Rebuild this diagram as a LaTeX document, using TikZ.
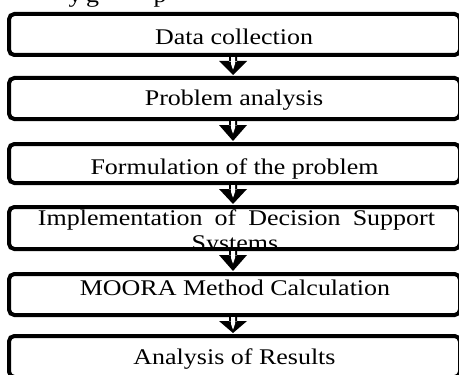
\documentclass[tikz,border=0pt]{standalone}
\usepackage{graphicx}
\usepackage{fontspec}
\setmainfont{Liberation Serif}
\usetikzlibrary{calc}

% widened serif lettering used throughout the flow chart
\newcommand\widetext[1]{\scalebox{1.16}[1]{#1}}

% block arrow from the bottom of one step to the top of the next
\newcommand\flowarrow[2]{%
  \fill let \p1=($(#1.south)+(-1.5,0)$), \p2=(#2.north) in
    (\x1-3pt,\y1) rectangle (\x1+3pt,\y1-5pt)
    (\x1-10.5pt,\y1-4.5pt) -- (\x1+10.5pt,\y1-4.5pt) -- (\x1,\y2+2.25pt) -- cycle;
  \fill[white] let \p1=($(#1.south)+(-1.5,0)$) in
    (\x1-1.5pt,\y1-1.6pt) -- (\x1+1.5pt,\y1-1.6pt) -- (\x1+1.5pt,\y1-6.75pt)
    -- (\x1,\y1-11pt) -- (\x1-1.5pt,\y1-6.75pt) -- cycle;
}

\begin{document}
\begin{tikzpicture}[x=0.75pt,y=-0.75pt,
  stepbox/.style={draw=black, line width=3pt, rounded corners=4pt, fill=white,
    minimum width=338.25pt, inner sep=0pt, outer sep=0pt},
  steptext/.style={font=\fontsize{16.8}{19}\selectfont, inner sep=0pt, anchor=base},
]
\useasboundingbox (0,0) rectangle (459,374);
\clip (0,0) rectangle (459,374);

% descenders of the preceding line of text, cut off at the top edge
\begin{scope}
  \clip (0,0) rectangle (459,9);
  \node[steptext] (f1) at (75,3) {\widetext{y}};
  \node[steptext] (f2) at (92.5,3) {\widetext{g}};
  \node[steptext] (f3) at (160,3) {\widetext{p}};
\end{scope}

% process steps
\node[stepbox, minimum height=30.75pt] (b1) at (234.5,34.5) {};
\node[stepbox, minimum height=30.75pt] (b2) at (234.5,98.5) {};
\node[stepbox, minimum height=29.25pt] (b3) at (234.5,163.5) {};
\node[stepbox, minimum height=31.5pt]  (b4) at (234.5,228) {};
\node[stepbox, minimum height=30.75pt] (b5) at (234.5,294.5) {};
\node[stepbox, minimum height=30.75pt] (b6) at (234.5,356.5) {};

% step labels
\node[steptext] (t1) at (234,45) {\widetext{Data collection}};
\node[steptext] (t2) at (234,105) {\widetext{Problem analysis}};
\node[steptext] (t3) at (234.5,174) {\widetext{Formulation of the problem}};
\begin{scope}
  \clip (9,209) rectangle (460,247);
  \node[steptext] (t4a) at (236.5,225) {\widetext{\makebox[256.7pt][s]{Implementation of Decision Support}}};
  \node[steptext] (t4b) at (235,250) {\widetext{Systems}};
\end{scope}
\node[steptext] (t5) at (235,295) {\widetext{MOORA Method Calculation}};
\node[steptext] (t6) at (234.5,364) {\widetext{Analysis of Results}};

% connectors between consecutive steps
\flowarrow{b1}{b2}
\flowarrow{b2}{b3}
\flowarrow{b3}{b4}
\flowarrow{b4}{b5}
\flowarrow{b5}{b6}
\end{tikzpicture}
\end{document}
